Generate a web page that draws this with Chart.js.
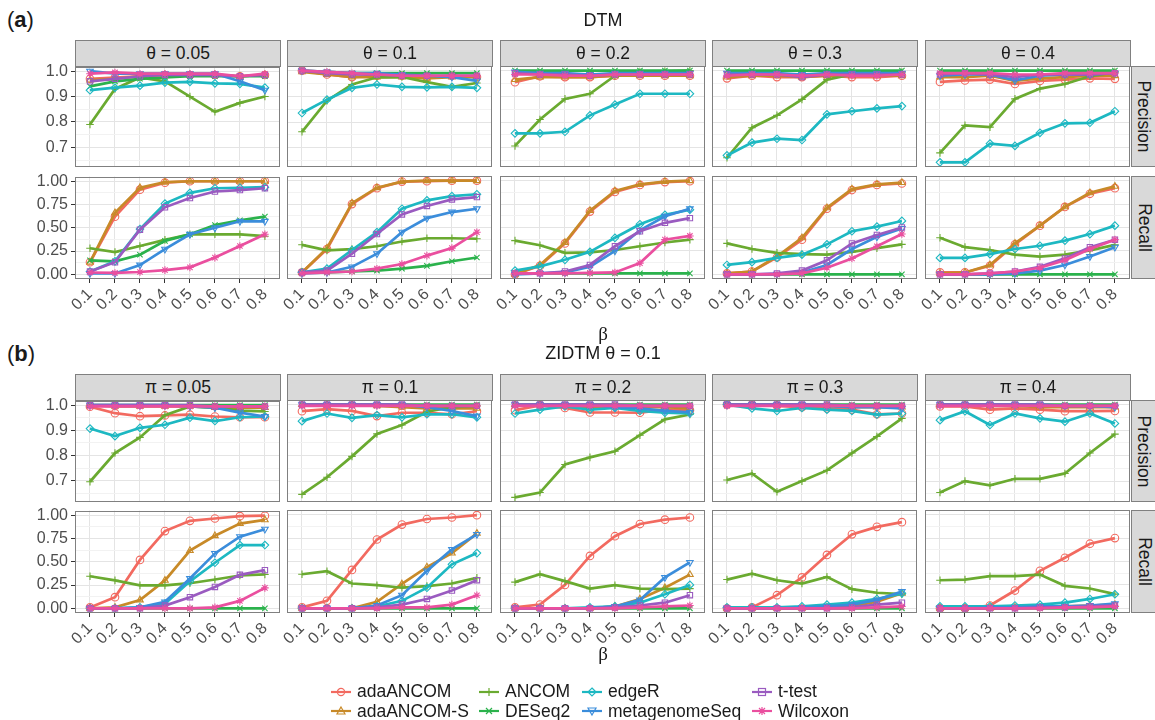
<!DOCTYPE html>
<html lang="en">
<head>
<meta charset="UTF-8">
<title>DTM / ZIDTM precision and recall</title>
<script src="https://cdn.jsdelivr.net/npm/chart.js"></script>
<style>
  body { margin: 0; background: #fff; }
  #page { position: relative; width: 1155px; height: 720px; overflow: hidden;
          font-family: "Liberation Sans", Arial, sans-serif; color: #1a1a1a; }
  canvas { position: absolute; }
  .txt { position: absolute; white-space: nowrap; }
  .strip { position: absolute; box-sizing: border-box; background: #d9d9d9; border: 1px solid #808080;
           font-size: 17.5px; display: flex; align-items: center; justify-content: center; color: #1a1a1a; }
  .strip span { white-space: nowrap; }
  .rstrip span { transform: rotate(90deg); }
  .title { font-size: 18px; transform: translateX(-50%); }
  .tag { font-size: 22px; }
  .beta { font-family: "Liberation Serif", "DejaVu Serif", serif; font-size: 19px; transform: translateX(-50%); }
  .leg { position: absolute; display: flex; align-items: center; font-size: 17.5px; white-space: nowrap; }
  .leg svg { margin-right: 5px; }
</style>
</head>
<body>
<div id="page"></div>

<script>
// ---- categories and tick labels ----
const betas = [0.1, 0.2, 0.3, 0.4, 0.5, 0.6, 0.7, 0.8];
const betaLabels = ['0.1', '0.2', '0.3', '0.4', '0.5', '0.6', '0.7', '0.8'];
const thetaLabels = ['θ = 0.05', 'θ = 0.1', 'θ = 0.2', 'θ = 0.3', 'θ = 0.4'];
const piLabels = ['π = 0.05', 'π = 0.1', 'π = 0.2', 'π = 0.3', 'π = 0.4'];
const methods = ['adaANCOM', 'adaANCOM-S', 'ANCOM', 'DESeq2', 'edgeR', 'metagenomeSeq', 't-test', 'Wilcoxon'];
const precisionTicks = [0.7, 0.8, 0.9, 1.0];
const precisionTickLabels = ['0.7', '0.8', '0.9', '1.0'];
const recallTicks = [0, 0.25, 0.5, 0.75, 1];
const recallTickLabels = ['0.00', '0.25', '0.50', '0.75', '1.00'];

// ---- (a) DTM, precision: one row per theta panel ----
const dtmPrec_adaANCOM = [
  [0.97, 0.975, 0.98, 0.985, 0.985, 0.985, 0.98, 0.985],
  [1.0, 0.985, 0.975, 0.98, 0.98, 0.975, 0.98, 0.975],
  [0.955, 0.978, 0.975, 0.975, 0.98, 0.98, 0.98, 0.98],
  [0.97, 0.98, 0.975, 0.975, 0.98, 0.975, 0.975, 0.98],
  [0.956, 0.962, 0.965, 0.948, 0.96, 0.965, 0.97, 0.968]];
const dtmPrec_adaANCOMS = [
  [0.965, 0.97, 0.98, 0.985, 0.985, 0.985, 0.98, 0.985],
  [0.995, 0.985, 0.975, 0.975, 0.975, 0.97, 0.975, 0.975],
  [0.965, 0.975, 0.975, 0.975, 0.98, 0.98, 0.98, 0.98],
  [0.975, 0.98, 0.98, 0.975, 0.98, 0.98, 0.98, 0.98],
  [0.975, 0.975, 0.98, 0.96, 0.97, 0.975, 0.98, 0.98]];
const dtmPrec_ANCOM = [
  [0.79, 0.93, 0.975, 0.96, 0.90, 0.84, 0.875, 0.90],
  [0.762, 0.883, 0.946, 0.974, 0.975, 0.955, 0.937, 0.952],
  [0.707, 0.81, 0.89, 0.91, 0.98, 0.994, 0.997, 1.0],
  [0.661, 0.778, 0.826, 0.888, 0.965, 0.985, 0.99, 0.994],
  [0.68, 0.787, 0.78, 0.89, 0.93, 0.948, 0.978, 0.994]];
const dtmPrec_DESeq2 = [
  [0.94, 0.96, 0.97, 0.975, 0.98, 0.98, 0.98, 0.98],
  [1.0, 0.995, 0.99, 0.99, 0.99, 0.99, 0.99, 0.99],
  [1.0, 1.0, 1.0, 1.0, 1.0, 1.0, 1.0, 1.0],
  [1.0, 1.0, 1.0, 1.0, 1.0, 1.0, 1.0, 1.0],
  [1.0, 1.0, 1.0, 1.0, 1.0, 1.0, 1.0, 1.0]];
const dtmPrec_edgeR = [
  [0.925, 0.935, 0.943, 0.955, 0.958, 0.952, 0.95, 0.935],
  [0.835, 0.887, 0.933, 0.946, 0.937, 0.935, 0.937, 0.933],
  [0.756, 0.756, 0.762, 0.826, 0.868, 0.91, 0.91, 0.91],
  [0.67, 0.72, 0.735, 0.73, 0.83, 0.842, 0.853, 0.862],
  [0.643, 0.643, 0.716, 0.707, 0.758, 0.795, 0.797, 0.842]];
const dtmPrec_metagenomeSeq = [
  [1.0, 0.99, 0.99, 0.99, 0.99, 0.99, 0.96, 0.925],
  [1.0, 0.995, 0.99, 0.99, 0.985, 0.98, 0.975, 0.96],
  [0.995, 0.99, 0.99, 0.985, 0.99, 0.99, 0.99, 0.99],
  [0.99, 0.99, 0.99, 0.985, 0.99, 0.99, 0.99, 0.99],
  [0.98, 0.985, 0.985, 0.962, 0.98, 0.985, 0.985, 0.99]];
const dtmPrec_ttest = [
  [0.96, 0.97, 0.98, 0.985, 0.985, 0.985, 0.98, 0.985],
  [1.0, 0.99, 0.985, 0.985, 0.98, 0.98, 0.98, 0.98],
  [0.99, 0.985, 0.985, 0.98, 0.985, 0.985, 0.985, 0.985],
  [0.985, 0.985, 0.985, 0.975, 0.985, 0.985, 0.985, 0.985],
  [0.985, 0.99, 0.985, 0.975, 0.985, 0.985, 0.985, 0.99]];
const dtmPrec_Wilcoxon = [
  [0.99, 0.995, 0.99, 0.99, 0.99, 0.99, 0.98, 0.99],
  [1.0, 0.995, 0.99, 0.985, 0.98, 0.98, 0.98, 0.98],
  [0.985, 0.985, 0.98, 0.98, 0.985, 0.985, 0.985, 0.985],
  [0.98, 0.985, 0.985, 0.98, 0.985, 0.98, 0.98, 0.985],
  [0.99, 0.99, 0.99, 0.985, 0.985, 0.99, 0.99, 0.99]];

// ---- (a) DTM, recall ----
const dtmRec_adaANCOM = [
  [0.13, 0.62, 0.91, 0.985, 1.0, 1.0, 1.0, 1.0],
  [0.02, 0.27, 0.75, 0.92, 0.99, 0.995, 1.0, 1.0],
  [0.0, 0.09, 0.33, 0.67, 0.88, 0.955, 0.985, 0.995],
  [0.01, 0.03, 0.18, 0.37, 0.70, 0.90, 0.955, 0.97],
  [0.02, 0.02, 0.09, 0.32, 0.52, 0.72, 0.86, 0.92]];
const dtmRec_adaANCOMS = [
  [0.13, 0.66, 0.93, 0.99, 1.0, 1.0, 1.0, 1.0],
  [0.02, 0.28, 0.76, 0.925, 0.99, 1.0, 1.0, 1.0],
  [0.0, 0.10, 0.34, 0.68, 0.89, 0.96, 0.99, 1.0],
  [0.01, 0.03, 0.19, 0.39, 0.71, 0.91, 0.96, 0.98],
  [0.01, 0.02, 0.10, 0.33, 0.52, 0.72, 0.87, 0.94]];
const dtmRec_ANCOM = [
  [0.28, 0.24, 0.305, 0.37, 0.43, 0.43, 0.43, 0.41],
  [0.315, 0.255, 0.27, 0.30, 0.35, 0.385, 0.385, 0.38],
  [0.36, 0.31, 0.23, 0.235, 0.26, 0.30, 0.34, 0.37],
  [0.33, 0.27, 0.23, 0.215, 0.21, 0.24, 0.28, 0.32],
  [0.39, 0.29, 0.26, 0.21, 0.19, 0.21, 0.255, 0.315]];
const dtmRec_DESeq2 = [
  [0.15, 0.14, 0.21, 0.36, 0.43, 0.53, 0.58, 0.62],
  [0.02, 0.02, 0.03, 0.04, 0.06, 0.09, 0.14, 0.18],
  [0.01, 0.01, 0.01, 0.01, 0.01, 0.01, 0.01, 0.01],
  [0.0, 0.0, 0.0, 0.0, 0.0, 0.0, 0.0, 0.0],
  [0.0, 0.0, 0.0, 0.0, 0.0, 0.0, 0.0, 0.0]];
const dtmRec_edgeR = [
  [0.03, 0.14, 0.486, 0.76, 0.876, 0.925, 0.93, 0.936],
  [0.02, 0.06, 0.26, 0.45, 0.70, 0.79, 0.835, 0.855],
  [0.04, 0.085, 0.155, 0.24, 0.39, 0.535, 0.635, 0.69],
  [0.10, 0.13, 0.175, 0.21, 0.32, 0.46, 0.51, 0.57],
  [0.175, 0.175, 0.215, 0.27, 0.305, 0.36, 0.43, 0.52]];
const dtmRec_metagenomeSeq = [
  [0.01, 0.01, 0.10, 0.27, 0.43, 0.50, 0.57, 0.57],
  [0.01, 0.02, 0.08, 0.22, 0.45, 0.60, 0.665, 0.70],
  [0.0, 0.01, 0.02, 0.08, 0.25, 0.47, 0.62, 0.70],
  [0.0, 0.0, 0.0, 0.02, 0.10, 0.27, 0.40, 0.49],
  [0.0, 0.0, 0.0, 0.01, 0.04, 0.10, 0.19, 0.29]];
const dtmRec_ttest = [
  [0.03, 0.13, 0.48, 0.72, 0.82, 0.89, 0.905, 0.925],
  [0.02, 0.04, 0.22, 0.43, 0.64, 0.73, 0.80, 0.825],
  [0.01, 0.01, 0.03, 0.10, 0.30, 0.46, 0.55, 0.60],
  [0.0, 0.0, 0.01, 0.04, 0.15, 0.33, 0.42, 0.50],
  [0.0, 0.0, 0.01, 0.03, 0.08, 0.17, 0.29, 0.37]];
const dtmRec_Wilcoxon = [
  [0.02, 0.015, 0.025, 0.045, 0.075, 0.18, 0.305, 0.43],
  [0.01, 0.02, 0.03, 0.06, 0.11, 0.20, 0.28, 0.45],
  [0.01, 0.01, 0.01, 0.015, 0.02, 0.12, 0.37, 0.41],
  [0.0, 0.0, 0.0, 0.01, 0.07, 0.17, 0.30, 0.43],
  [0.0, 0.0, 0.01, 0.03, 0.07, 0.15, 0.27, 0.37]];

// ---- (b) ZIDTM theta = 0.1, precision: one row per pi panel ----
const zidPrec_adaANCOM = [
  [0.994, 0.968, 0.956, 0.959, 0.962, 0.955, 0.952, 0.952],
  [0.974, 0.982, 0.975, 0.955, 0.968, 0.968, 0.962, 0.974],
  [0.978, 0.997, 0.987, 0.969, 0.969, 0.968, 0.98, 0.978],
  [1.0, 1.0, 0.995, 0.99, 0.985, 0.98, 0.962, 0.965],
  [0.993, 0.993, 0.98, 0.985, 0.98, 0.974, 0.974, 0.975]];
const zidPrec_adaANCOMS = [
  [1.0, 0.995, 0.995, 0.995, 0.995, 0.99, 0.99, 0.99],
  [1.0, 1.0, 1.0, 0.995, 0.99, 0.985, 0.985, 0.985],
  [1.0, 1.0, 0.995, 0.99, 0.99, 0.99, 0.99, 0.985],
  [1.0, 1.0, 1.0, 0.995, 0.995, 0.99, 0.99, 0.99],
  [1.0, 1.0, 0.995, 0.995, 0.99, 0.99, 0.99, 0.99]];
const zidPrec_ANCOM = [
  [0.696, 0.81, 0.872, 0.96, 0.995, 0.99, 0.978, 0.975],
  [0.648, 0.715, 0.797, 0.885, 0.92, 0.972, 0.99, 0.995],
  [0.636, 0.655, 0.765, 0.793, 0.817, 0.88, 0.942, 0.961],
  [0.704, 0.73, 0.658, 0.70, 0.742, 0.81, 0.875, 0.946],
  [0.655, 0.70, 0.683, 0.709, 0.709, 0.73, 0.81, 0.884]];
const zidPrec_DESeq2 = [
  [1.0, 1.0, 1.0, 1.0, 1.0, 1.0, 1.0, 1.0],
  [1.0, 1.0, 1.0, 1.0, 1.0, 1.0, 1.0, 1.0],
  [1.0, 1.0, 1.0, 1.0, 1.0, 1.0, 1.0, 1.0],
  [1.0, 1.0, 1.0, 1.0, 1.0, 1.0, 1.0, 1.0],
  [1.0, 1.0, 1.0, 1.0, 1.0, 1.0, 1.0, 1.0]];
const zidPrec_edgeR = [
  [0.907, 0.877, 0.91, 0.922, 0.95, 0.937, 0.952, 0.955],
  [0.935, 0.965, 0.948, 0.959, 0.95, 0.962, 0.962, 0.95],
  [0.965, 0.98, 0.993, 0.98, 0.987, 0.975, 0.968, 0.965],
  [1.0, 0.985, 0.975, 0.987, 0.98, 0.975, 0.961, 0.965],
  [0.939, 0.974, 0.92, 0.965, 0.946, 0.933, 0.965, 0.926]];
const zidPrec_metagenomeSeq = [
  [1.0, 1.0, 1.0, 1.0, 0.995, 0.99, 0.97, 0.955],
  [1.0, 1.0, 1.0, 1.0, 1.0, 0.99, 0.975, 0.955],
  [1.0, 1.0, 1.0, 1.0, 0.99, 0.985, 0.975, 0.97],
  [1.0, 1.0, 1.0, 1.0, 0.995, 0.99, 0.99, 0.985],
  [1.0, 1.0, 1.0, 1.0, 1.0, 0.995, 0.995, 0.99]];
const zidPrec_ttest = [
  [1.0, 1.0, 1.0, 1.0, 1.0, 0.995, 0.995, 0.995],
  [1.0, 1.0, 1.0, 1.0, 1.0, 0.995, 0.995, 0.995],
  [1.0, 1.0, 1.0, 1.0, 1.0, 0.995, 0.995, 0.995],
  [1.0, 1.0, 1.0, 1.0, 1.0, 0.995, 0.995, 0.995],
  [1.0, 1.0, 1.0, 1.0, 1.0, 0.995, 0.995, 0.995]];
const zidPrec_Wilcoxon = [
  [0.995, 0.995, 0.995, 0.995, 0.995, 0.995, 0.995, 0.995],
  [0.995, 0.995, 0.995, 0.995, 0.995, 0.995, 0.995, 0.995],
  [0.995, 0.995, 0.995, 0.995, 0.995, 0.995, 0.995, 0.995],
  [0.995, 0.995, 0.995, 0.995, 0.995, 0.995, 0.995, 0.995],
  [0.995, 0.995, 0.995, 0.995, 0.995, 0.995, 0.995, 0.995]];

// ---- (b) ZIDTM, recall ----
const zidRec_adaANCOM = [
  [0.01, 0.12, 0.52, 0.83, 0.94, 0.965, 0.99, 0.995],
  [0.01, 0.08, 0.41, 0.735, 0.894, 0.954, 0.97, 0.995],
  [0.01, 0.04, 0.25, 0.56, 0.77, 0.90, 0.947, 0.97],
  [0.0, 0.01, 0.14, 0.33, 0.57, 0.79, 0.87, 0.92],
  [0.0, 0.0, 0.03, 0.19, 0.40, 0.54, 0.69, 0.75]];
const zidRec_adaANCOMS = [
  [0.0, 0.01, 0.09, 0.30, 0.62, 0.78, 0.91, 0.95],
  [0.0, 0.0, 0.0, 0.07, 0.26, 0.44, 0.59, 0.80],
  [0.0, 0.0, 0.0, 0.0, 0.02, 0.10, 0.22, 0.36],
  [0.0, 0.0, 0.0, 0.0, 0.01, 0.02, 0.07, 0.16],
  [0.0, 0.0, 0.0, 0.01, 0.01, 0.02, 0.03, 0.04]];
const zidRec_ANCOM = [
  [0.345, 0.30, 0.247, 0.247, 0.27, 0.31, 0.353, 0.364],
  [0.364, 0.396, 0.265, 0.247, 0.22, 0.237, 0.265, 0.325],
  [0.28, 0.364, 0.29, 0.21, 0.247, 0.21, 0.205, 0.21],
  [0.307, 0.371, 0.30, 0.265, 0.336, 0.205, 0.166, 0.152],
  [0.30, 0.307, 0.343, 0.343, 0.36, 0.24, 0.212, 0.152]];
const zidRec_DESeq2 = [
  [0.0, 0.0, 0.0, 0.0, 0.0, 0.0, 0.0, 0.0],
  [0.0, 0.0, 0.0, 0.0, 0.0, 0.0, 0.0, 0.0],
  [0.0, 0.0, 0.0, 0.0, 0.0, 0.0, 0.0, 0.0],
  [0.0, 0.0, 0.0, 0.0, 0.0, 0.0, 0.0, 0.0],
  [0.0, 0.0, 0.0, 0.0, 0.0, 0.0, 0.0, 0.0]];
const zidRec_edgeR = [
  [0.0, 0.0, 0.01, 0.05, 0.29, 0.49, 0.68, 0.68],
  [0.0, 0.0, 0.0, 0.02, 0.08, 0.22, 0.47, 0.59],
  [0.0, 0.0, 0.0, 0.01, 0.02, 0.06, 0.15, 0.25],
  [0.01, 0.01, 0.01, 0.02, 0.04, 0.06, 0.10, 0.16],
  [0.02, 0.02, 0.02, 0.03, 0.04, 0.06, 0.10, 0.15]];
const zidRec_metagenomeSeq = [
  [0.0, 0.0, 0.01, 0.07, 0.32, 0.59, 0.77, 0.85],
  [0.0, 0.0, 0.0, 0.03, 0.14, 0.40, 0.63, 0.79],
  [0.0, 0.0, 0.0, 0.0, 0.02, 0.09, 0.33, 0.49],
  [0.0, 0.0, 0.0, 0.01, 0.02, 0.04, 0.09, 0.18],
  [0.0, 0.0, 0.01, 0.01, 0.02, 0.02, 0.03, 0.05]];
const zidRec_ttest = [
  [0.0, 0.0, 0.0, 0.03, 0.12, 0.23, 0.36, 0.41],
  [0.0, 0.0, 0.0, 0.01, 0.04, 0.10, 0.19, 0.30],
  [0.0, 0.0, 0.0, 0.0, 0.01, 0.03, 0.06, 0.14],
  [0.0, 0.0, 0.0, 0.0, 0.0, 0.01, 0.04, 0.06],
  [0.0, 0.0, 0.0, 0.0, 0.01, 0.01, 0.02, 0.03]];
const zidRec_Wilcoxon = [
  [0.0, 0.0, 0.0, 0.0, 0.0, 0.01, 0.08, 0.22],
  [0.0, 0.0, 0.0, 0.0, 0.01, 0.01, 0.04, 0.14],
  [0.0, 0.0, 0.0, 0.0, 0.0, 0.01, 0.02, 0.03],
  [0.0, 0.0, 0.0, 0.0, 0.0, 0.0, 0.01, 0.02],
  [0.0, 0.0, 0.0, 0.0, 0.0, 0.01, 0.01, 0.02]];

// ---- styling ----
const colors = ['#f26a60', '#c88a28', '#6aaa30', '#2bb24c', '#1db8c2', '#3b8ddb', '#9a5bc0', '#ea4f9f'];
const shapes = ['circle', 'triangle', 'cross', 'crossRot', 'rectRot', 'triangleDown', 'rect', 'star'];

Chart.defaults.font.family = '"Liberation Sans", Arial, sans-serif';
Chart.defaults.animation = false;

const page = document.getElementById('page');
const colLeft = [75, 287, 500, 712, 925];
const panelW = 206;

const rows = [
  { top: 66, bottom: 167, min: 0.625, max: 1.018, prec: true, xlab: false, strip: 'Precision',
    data: [dtmPrec_adaANCOM, dtmPrec_adaANCOMS, dtmPrec_ANCOM, dtmPrec_DESeq2, dtmPrec_edgeR, dtmPrec_metagenomeSeq, dtmPrec_ttest, dtmPrec_Wilcoxon] },
  { top: 176, bottom: 279, min: -0.05, max: 1.05, prec: false, xlab: true, strip: 'Recall',
    data: [dtmRec_adaANCOM, dtmRec_adaANCOMS, dtmRec_ANCOM, dtmRec_DESeq2, dtmRec_edgeR, dtmRec_metagenomeSeq, dtmRec_ttest, dtmRec_Wilcoxon] },
  { top: 400, bottom: 502, min: 0.618, max: 1.018, prec: true, xlab: false, strip: 'Precision',
    data: [zidPrec_adaANCOM, zidPrec_adaANCOMS, zidPrec_ANCOM, zidPrec_DESeq2, zidPrec_edgeR, zidPrec_metagenomeSeq, zidPrec_ttest, zidPrec_Wilcoxon] },
  { top: 510, bottom: 613, min: -0.05, max: 1.05, prec: false, xlab: true, strip: 'Recall',
    data: [zidRec_adaANCOM, zidRec_adaANCOMS, zidRec_ANCOM, zidRec_DESeq2, zidRec_edgeR, zidRec_metagenomeSeq, zidRec_ttest, zidRec_Wilcoxon] }
];

const panelBorder = {
  id: 'panelBorder',
  afterDraw(chart) {
    const a = chart.chartArea, c = chart.ctx;
    c.save();
    c.strokeStyle = '#808080';
    c.lineWidth = 1;
    c.strokeRect(Math.round(a.left) + 0.5, Math.round(a.top) + 0.5, Math.round(a.right - a.left) - 1, Math.round(a.bottom - a.top) - 1);
    c.restore();
  }
};

function addDiv(cls, html, style) {
  const d = document.createElement('div');
  d.className = cls;
  d.innerHTML = html;
  Object.assign(d.style, style);
  page.appendChild(d);
  return d;
}

function drawPanel(row, col) {
  const first = col === 0;
  const L = first ? 52 : 14, T = 12, R = 4, B = row.xlab ? 54 : 12;
  const h = row.bottom - row.top;
  const cv = document.createElement('canvas');
  cv.width = L + panelW + R;
  cv.height = T + h + B;
  cv.style.left = (colLeft[col] - L) + 'px';
  cv.style.top = (row.top - T) + 'px';
  page.appendChild(cv);

  const major = row.prec ? precisionTicks : recallTicks;
  const majorLab = row.prec ? precisionTickLabels : recallTickLabels;
  const step = row.prec ? 0.05 : 0.125;
  const yTicks = [];
  for (let v = major[0] - step; v <= row.max + 1e-9; v += step) {
    if (v >= row.min) yTicks.push(Math.round(v * 1000) / 1000);
  }
  const isMajor = v => major.some(m => Math.abs(m - v) < 1e-6);

  const datasets = methods.map((m, i) => ({
    label: m,
    data: row.data[i][col].map((v, j) => ({ x: betas[j], y: v })),
    borderColor: colors[i],
    backgroundColor: 'rgba(0,0,0,0)',
    borderWidth: 2.7,
    pointStyle: shapes[i] === 'triangleDown' ? 'triangle' : shapes[i],
    pointRotation: shapes[i] === 'triangleDown' ? 180 : 0,
    pointRadius: 3.8,
    pointBorderWidth: 1.1,
    pointBackgroundColor: 'rgba(0,0,0,0)',
    order: methods.length - i
  }));

  new Chart(cv, {
    type: 'line',
    data: { datasets },
    options: {
      responsive: false,
      layout: { padding: { left: first ? 0 : L, top: T, right: R, bottom: row.xlab ? 0 : B } },
      plugins: { legend: { display: false }, tooltip: { enabled: false } },
      scales: {
        x: {
          type: 'linear', min: 0.04, max: 0.86,
          afterBuildTicks: s => { s.ticks = betas.map(v => ({ value: v })); },
          afterFit: s => { s.height = row.xlab ? B : 0; },
          ticks: { display: row.xlab, autoSkip: false, minRotation: 45, maxRotation: 45, padding: 2,
                   color: '#4d4d4d', font: { size: 16 },
                   callback: (v, i) => betaLabels[i] },
          grid: { color: '#e4e4e4', lineWidth: 1, drawTicks: row.xlab, tickLength: 4, tickColor: '#333' },
          border: { display: false }
        },
        y: {
          type: 'linear', min: row.min, max: row.max,
          afterBuildTicks: s => { s.ticks = yTicks.map(v => ({ value: v })); },
          afterFit: s => { s.width = first ? L : 0; },
          ticks: { display: first, autoSkip: false, padding: 3, color: '#4d4d4d', font: { size: 16 },
                   callback: v => { const k = major.findIndex(m => Math.abs(m - v) < 1e-6); return k >= 0 ? majorLab[k] : ''; } },
          grid: {
            color: ctx => isMajor(ctx.tick.value) ? '#e4e4e4' : '#f2f2f2',
            lineWidth: 1,
            drawTicks: first, tickLength: 4,
            tickColor: ctx => isMajor(ctx.tick.value) ? '#333' : 'rgba(0,0,0,0)'
          },
          border: { display: false }
        }
      }
    },
    plugins: [panelBorder]
  });
}

// panels
rows.forEach(row => {
  for (let c = 0; c < 5; c++) drawPanel(row, c);
  addDiv('strip rstrip', '<span>' + row.strip + '</span>',
    { left: '1131px', top: row.top + 'px', width: '26px', height: (row.bottom - row.top) + 'px' });
});

// top strips
const stripH = 26;
[[rows[0].top, thetaLabels], [rows[2].top, piLabels]].forEach(([top, labs]) => {
  labs.forEach((t, c) => addDiv('strip', '<span>' + t + '</span>',
    { left: colLeft[c] + 'px', top: (top - stripH) + 'px', width: panelW + 'px', height: (stripH + 1) + 'px' }));
});

// titles and axis titles
addDiv('txt tag', '(<b>a</b>)', { left: '7px', top: '7px' });
addDiv('txt title', 'DTM', { left: '603px', top: '10px' });
addDiv('txt beta', 'β', { left: '603px', top: '323px' });
addDiv('txt tag', '(<b>b</b>)', { left: '7px', top: '341px' });
addDiv('txt title', 'ZIDTM θ = 0.1', { left: '603px', top: '343px' });
addDiv('txt beta', 'β', { left: '603px', top: '643px' });

// legend (column-major, 2 rows)
function markerSVG(shape, color) {
  const c = color, s = 'stroke="' + c + '" stroke-width="1.2" fill="none"';
  let m = '';
  if (shape === 'circle') m = '<circle cx="11" cy="7" r="3.6" ' + s + '/>';
  if (shape === 'triangle') m = '<polygon points="11,3 15,10 7,10" ' + s + '/>';
  if (shape === 'triangleDown') m = '<polygon points="11,11 15,4 7,4" ' + s + '/>';
  if (shape === 'cross') m = '<path d="M11 3V11M7 7H15" ' + s + '/>';
  if (shape === 'crossRot') m = '<path d="M8 4L14 10M14 4L8 10" ' + s + '/>';
  if (shape === 'rectRot') m = '<polygon points="11,3 15,7 11,11 7,7" ' + s + '/>';
  if (shape === 'rect') m = '<rect x="7.5" y="3.5" width="7" height="7" ' + s + '/>';
  if (shape === 'star') m = '<path d="M11 3V11M7 7H15M8 4L14 10M14 4L8 10" ' + s + '/>';
  return '<svg width="22" height="14"><line x1="1" y1="7" x2="21" y2="7" stroke="' + c + '" stroke-width="2.2"/>' + m + '</svg>';
}
const legCols = [330, 478, 581, 751];
methods.forEach((m, i) => {
  const col = Math.floor(i / 2), r = i % 2;
  addDiv('leg', markerSVG(shapes[i], colors[i]) + '<span>' + m + '</span>',
    { left: legCols[col] + 'px', top: (681 + r * 19.5) + 'px' });
});
</script>
</body>
</html>
